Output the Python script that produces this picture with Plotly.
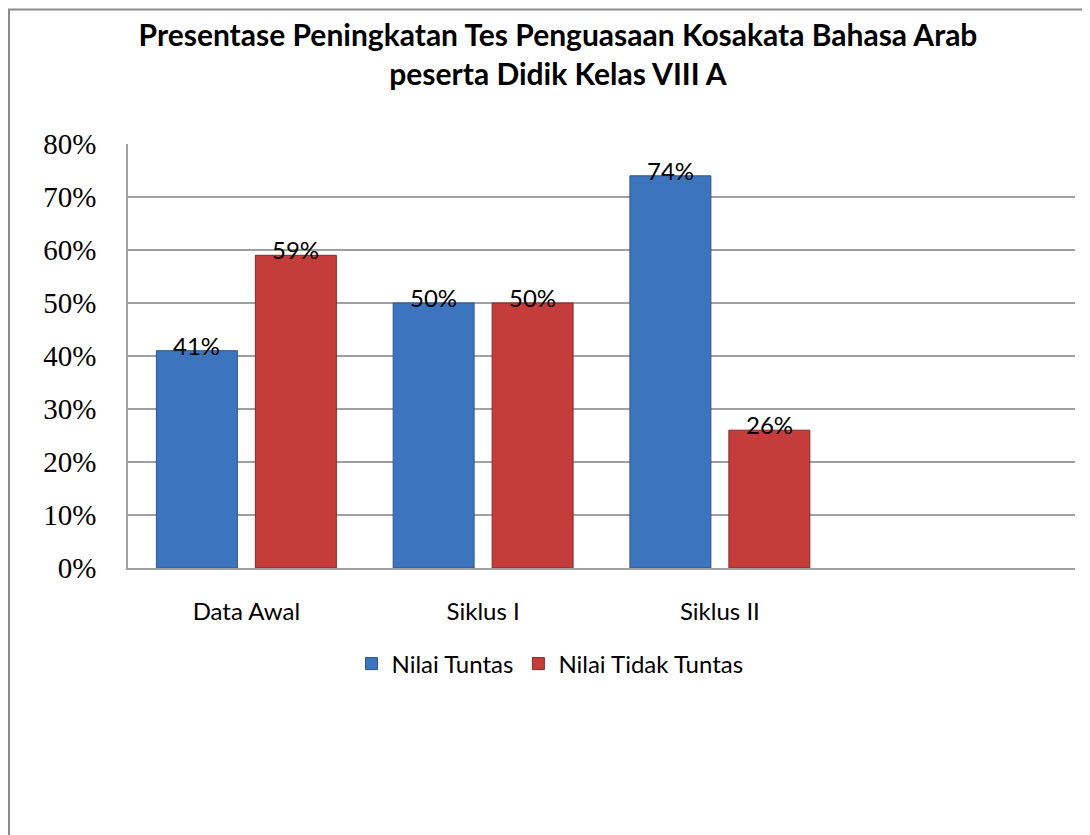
import plotly.graph_objects as go

categories = ["Data Awal", "Siklus I", "Siklus II"]
nilai_tuntas = [0.41, 0.50, 0.74]
nilai_tidak_tuntas = [0.59, 0.50, 0.26]
series_names = ["Nilai Tuntas", "Nilai Tidak Tuntas"]
title_lines = ["Presentase Peningkatan Tes Penguasaan Kosakata Bahasa Arab",
               "peserta Didik Kelas VIII A"]

# page has an 8px body margin; work in figure pixel coordinates
W, H = 1082, 827
L, R, T, B = 120, 15, 136, 267
pw = W - L - R
ph = H - T - B

def px_to_paper_x(px):
    return (px - L) / pw

def px_to_paper_y(py):
    return (H - B - py) / ph

label_font = dict(family="Lato", size=24, color="black")
colors = ["#3D74BE", "#C43D3A"]
edge_colors = ["#2B5590", "#8C2624"]
series_values = [nilai_tuntas, nilai_tidak_tuntas]

fig = go.Figure()
for name, vals, c, ec in zip(series_names, series_values, colors, edge_colors):
    fig.add_trace(go.Bar(
        x=categories, y=vals, name=name,
        marker=dict(color=c, line=dict(color=ec, width=1)),
    ))

# data labels: slightly overlapping the bar tops as in the reference
shifts = [-49.5, 49.5]
for vals, xs in zip(series_values, shifts):
    for cat, v in zip(categories, vals):
        fig.add_annotation(x=cat, y=v, xref="x", yref="y",
                           text=f"{round(v * 100)}%", showarrow=False,
                           xanchor="center", yanchor="bottom",
                           xshift=xs, yshift=-11, font=label_font)

fig.update_layout(
    width=W, height=H,
    margin=dict(l=L, r=R, t=T, b=B, pad=0),
    paper_bgcolor="white", plot_bgcolor="white",
    barmode="group", bargap=0.164, bargroupgap=0.182,
    showlegend=True,
    legend=dict(orientation="h", x=px_to_paper_x(542), y=px_to_paper_y(656),
                xanchor="center", yanchor="middle",
                font=dict(family="Lato", size=24, color="black"),
                itemwidth=30, tracegroupgap=0, bgcolor="rgba(0,0,0,0)"),
    title=dict(text="<b>" + title_lines[0] + "<br>" + title_lines[1] + "</b>",
               x=550 / W, xanchor="center",
               y=1 - 38 / H, yanchor="middle",
               font=dict(family="Lato", size=30, color="black")),
    font=dict(family="Lato"),
)

fig.update_xaxes(
    type="category", range=[-0.5, 3.5],
    showgrid=False, showline=True, linecolor="#A0A0A0", linewidth=1.5,
    ticks="", ticklabelstandoff=21,
    tickfont=dict(family="Lato", size=24, color="black"),
    fixedrange=True,
)
fig.update_yaxes(
    range=[0, 0.8], dtick=0.1, tickformat=".0%",
    showgrid=True, gridcolor="#A0A0A0", gridwidth=1.5,
    showline=True, linecolor="#A0A0A0", linewidth=1.5,
    zeroline=False, ticks="", ticklabelstandoff=24,
    tickfont=dict(family="Liberation Serif", size=29, color="black"),
    fixedrange=True,
)

# outer chart border (top and left visible in the crop)
fig.add_shape(type="rect", xref="paper", yref="paper",
              x0=px_to_paper_x(1), x1=px_to_paper_x(1200),
              y0=px_to_paper_y(1000), y1=px_to_paper_y(1.5),
              line=dict(color="#8C8C8C", width=2), fillcolor="rgba(0,0,0,0)",
              layer="below")

fig.write_html("out.html")
